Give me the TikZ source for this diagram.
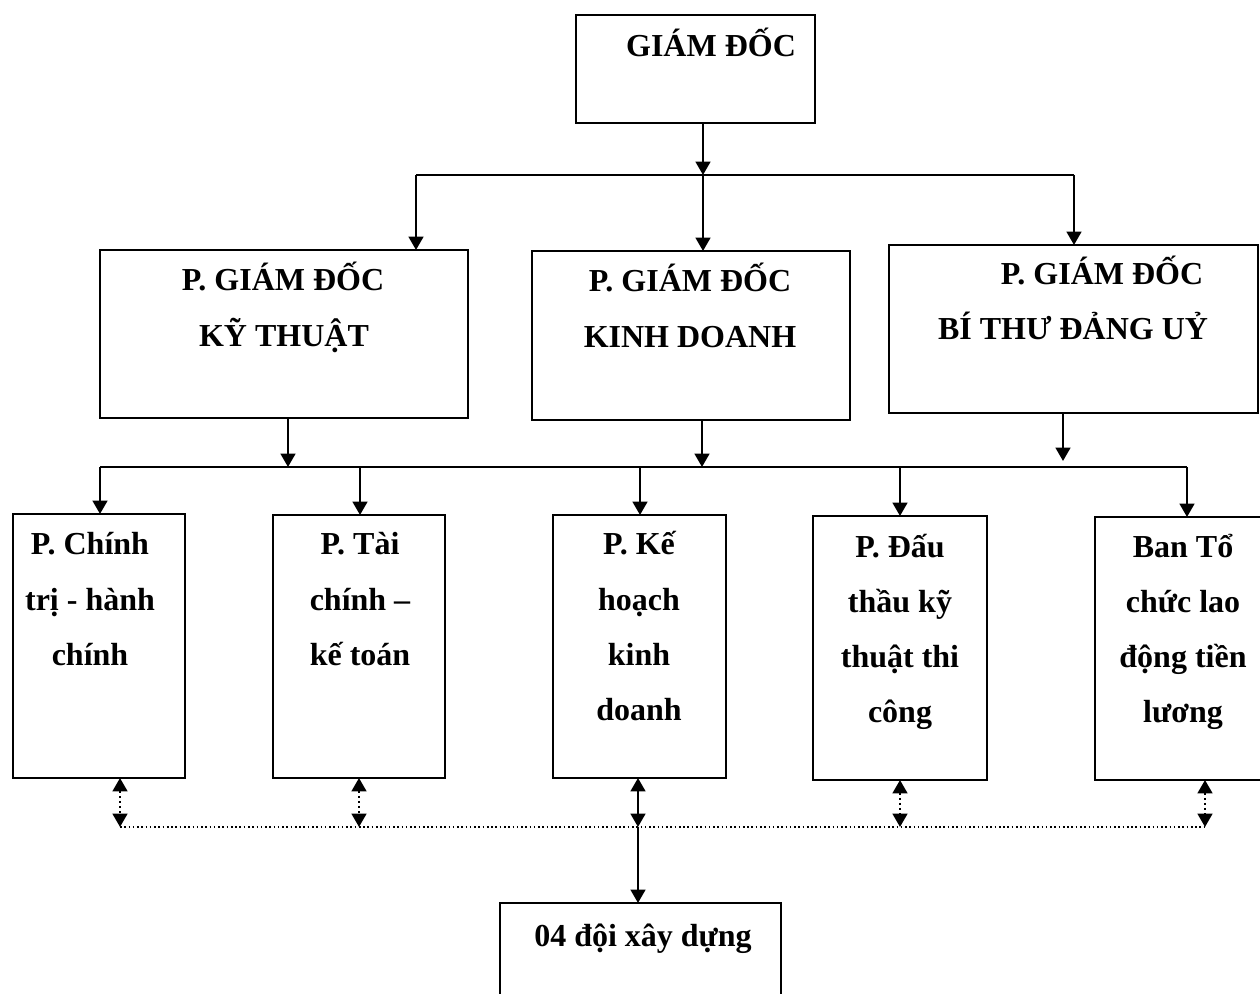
\documentclass[tikz,border=0pt]{standalone}
\usepackage{fontspec}
\setmainfont{Liberation Serif}
\usetikzlibrary{arrows.meta}
\begin{document}
\begin{tikzpicture}[x=0.75pt,y=-0.75pt,
  box/.style 2 args={draw, line width=1.4pt, minimum width=#1*0.75pt, minimum height=#2*0.75pt, inner sep=0pt, outer sep=0pt, anchor=north west},
  txt/.style={font=\fontsize{24}{28}\selectfont\bfseries, inner sep=0pt, anchor=base},
  ln/.style={line width=1.4pt},
  arr/.style={line width=1.8pt, -{Triangle[length=10pt,width=11pt]}},
  darr/.style={line width=1.8pt, dotted, {Triangle[length=10pt,width=11pt]}-{Triangle[length=10pt,width=11pt]}},
  sarr/.style={line width=1.8pt, {Triangle[length=10pt,width=11pt]}-{Triangle[length=10pt,width=11pt]}},
  dline/.style={line width=1.2pt, dotted}]
\useasboundingbox (0,0) rectangle (1260,994);
\clip (0,0) rectangle (1260,994);
\fill[white] (0,0) rectangle (1260,994);

% boxes
\node[box={239}{108}] (gd) at (576,15) {};
\node[box={368}{168}] (kt) at (100,250) {};
\node[box={318}{169}] (kd) at (532,251) {};
\node[box={369}{168}] (bt) at (889,245) {};
\node[box={172}{264}] (p1) at (13,514) {};
\node[box={172}{263}] (p2) at (273,515) {};
\node[box={173}{263}] (p3) at (553,515) {};
\node[box={174}{264}] (p4) at (813,516) {};
\node[box={175}{263}] (p5) at (1095,517) {};
\node[box={281}{130}] (dx) at (500,903) {};

% texts
\node[txt] (tgd) at (711,57) {GIÁM ĐỐC};
\node[txt] (tkt1) at (283,291) {P. GIÁM ĐỐC};
\node[txt] (tkt2) at (284,347) {KỸ THUẬT};
\node[txt] (tkd1) at (690,292) {P. GIÁM ĐỐC};
\node[txt] (tkd2) at (690,348) {KINH DOANH};
\node[txt] (tbt1) at (1102,285) {P. GIÁM ĐỐC};
\node[txt] (tbt2) at (1073,340) {BÍ THƯ ĐẢNG UỶ};

\node[txt] (t11) at (90,555) {P. Chính};
\node[txt] (t12) at (90,610) {trị - hành};
\node[txt] (t13) at (90,665) {chính};

\node[txt] (t21) at (360,555) {P. Tài};
\node[txt] (t22) at (360,610) {chính –};
\node[txt] (t23) at (360,665) {kế toán};

\node[txt] (t31) at (639,555) {P. Kế};
\node[txt] (t32) at (639,610) {hoạch};
\node[txt] (t33) at (639,665) {kinh};
\node[txt] (t34) at (639,720) {doanh};

\node[txt] (t41) at (900,557) {P. Đấu};
\node[txt] (t42) at (900,612) {thầu kỹ};
\node[txt] (t43) at (900,667) {thuật thi};
\node[txt] (t44) at (900,722) {công};

\node[txt] (t51) at (1183,557) {Ban Tổ};
\node[txt] (t52) at (1183,612) {chức lao};
\node[txt] (t53) at (1183,667) {động tiền};
\node[txt] (t54) at (1183,722) {lương};

\node[txt] (tdx) at (643,946) {04 đội xây dựng};

% level 1 connectors
\coordinate (c0) at (703,175);
\coordinate (hl) at (416,175);
\coordinate (hr) at (1074,175);
\draw[arr] (gd.south -| c0) -- (c0);
\draw[ln] (hl) -- (hr);
\draw[arr] (hl) -- (hl |- kt.north);
\draw[arr] (c0) -- (c0 |- kd.north);
\draw[arr] (hr) -- (hr |- bt.north);

% level 2 connectors
\coordinate (ma) at (288,467);
\coordinate (mb) at (702,467);
\coordinate (mc) at (1063,461);
\coordinate (ml) at (100,467);
\coordinate (m2) at (360,467);
\coordinate (m3) at (640,467);
\coordinate (m4) at (900,467);
\coordinate (mr) at (1187,467);
\draw[arr] (kt.south -| ma) -- (ma);
\draw[arr] (kd.south -| mb) -- (mb);
\draw[arr] (bt.south -| mc) -- (mc);
\draw[ln] (ml) -- (mr);
\draw[arr] (ml) -- (ml |- p1.north);
\draw[arr] (m2) -- (m2 |- p2.north);
\draw[arr] (m3) -- (m3 |- p3.north);
\draw[arr] (m4) -- (m4 |- p4.north);
\draw[arr] (mr) -- (mr |- p5.north);

% level 3 connectors
\coordinate (b1) at (120,827);
\coordinate (b2) at (359,827);
\coordinate (b3) at (638,827);
\coordinate (b4) at (900,827);
\coordinate (b5) at (1205,827);
\draw[dline] (b1) -- (b5);
\draw[darr] (p1.south -| b1) -- (b1);
\draw[darr] (p2.south -| b2) -- (b2);
\draw[sarr] (p3.south -| b3) -- (b3);
\draw[darr] (p4.south -| b4) -- (b4);
\draw[darr] (p5.south -| b5) -- (b5);
\draw[arr] (b3) -- (b3 |- dx.north);
\end{tikzpicture}
\end{document}
